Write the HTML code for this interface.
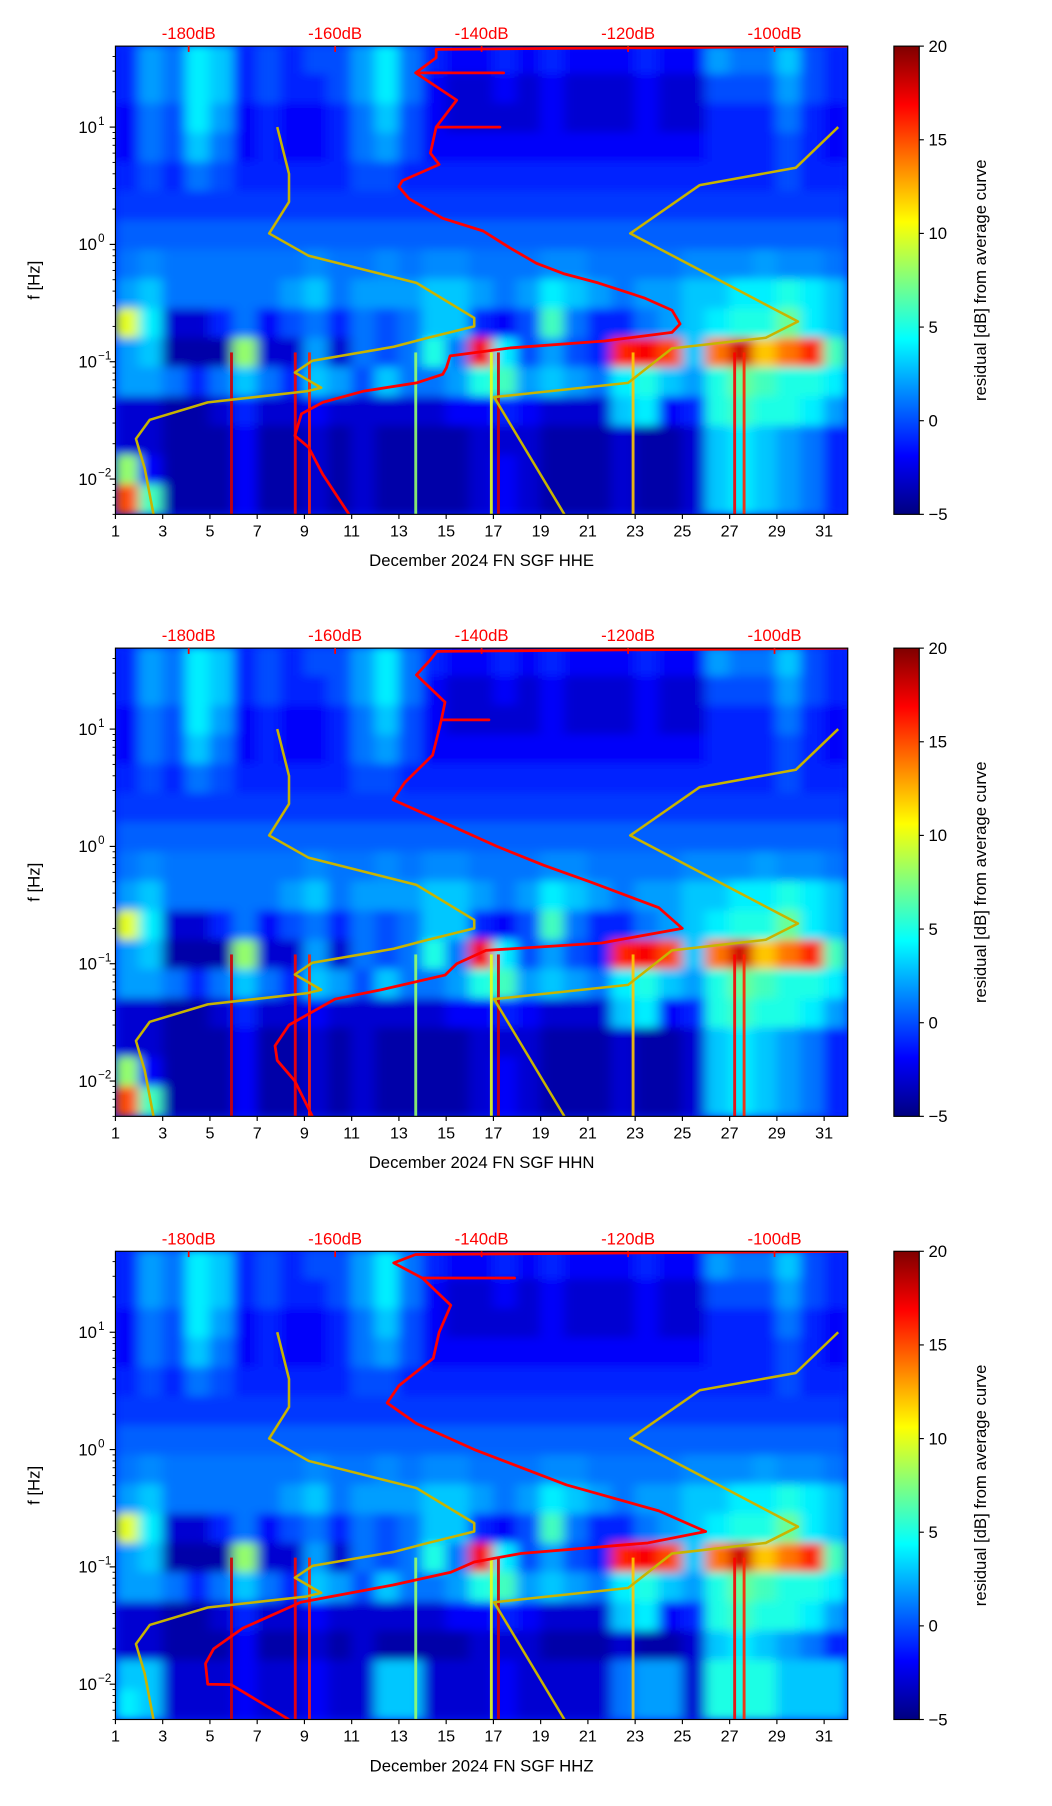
<!DOCTYPE html>
<html><head><meta charset="utf-8"><style>
html,body{margin:0;padding:0;background:#fff;}
svg{display:block;font-family:"Liberation Sans","DejaVu Sans",sans-serif;}
</style></head><body>
<svg id="fig" width="1052" height="1806" viewBox="0 0 912 1566" xmlns="http://www.w3.org/2000/svg">
<defs>
<filter id="blur" x="-5%" y="-5%" width="110%" height="110%"><feGaussianBlur stdDeviation="5 4"/></filter>
<linearGradient id="jet" x1="0" y1="1" x2="0" y2="0">
<stop offset="0" stop-color="#00007f"/><stop offset="0.125" stop-color="#0000ff"/><stop offset="0.375" stop-color="#00ffff"/><stop offset="0.625" stop-color="#ffff00"/><stop offset="0.875" stop-color="#ff0000"/><stop offset="1" stop-color="#7f0000"/>
</linearGradient>
</defs>
</svg>
<script>
// ---- data ----
const dayTicks=[1,3,5,7,9,11,13,15,17,19,21,23,25,27,29,31];
const dbTicks=[-180,-160,-140,-120,-100];
const cbTicks=[20,15,10,5,0,-5];
const yDecades=[1,0,-1,-2];
const channels=["HHE","HHN","HHZ"];
// residual grid: 16 bands (top 50Hz -> bottom 0.005Hz, 0.25 decade each) x 31 days
const residE=[
[-1,2,1,4,3,-1,0,-1,0,0,2,4,1,-1,-2,-2,-1,-2,-1,-2,-2,-2,-1,-2,-2,2,1,1,3,0,-1],
[-1,2,1,4,3,-1,0,-1,-1,0,2,4,1,-2,-3,-3,-2,-3,-2,-3,-3,-3,-2,-3,-3,0,0,0,2,0,-1],
[-2,1,0,4,2,-2,-1,-2,-2,-1,1,3,0,-2,-3,-3,-3,-3,-2,-3,-3,-3,-2,-3,-3,-1,-1,-1,1,-1,-2],
[-2,1,0,3,1,-2,-1,-2,-2,-1,1,2,0,-2,-2,-2,-2,-2,-2,-2,-2,-2,-2,-2,-2,-1,-1,-1,0,-1,-2],
[-1,0,-1,1,0,-1,-1,-1,-1,-1,0,0,-1,-1,-1,-1,-1,-1,-1,-1,-1,-1,-1,-1,-1,-1,-1,-1,0,-1,-1],
[-0.5,-0.5,-0.5,-0.5,-0.5,-0.5,-0.5,-0.5,-0.5,-0.5,-0.5,-0.5,-0.5,-0.5,-0.5,-0.5,-0.5,-0.5,-0.5,-0.5,-0.5,-0.5,-0.5,-0.5,-0.5,-0.5,-0.5,-0.5,-0.5,-0.5,-0.5],
[0.5,0.5,0.5,0.5,0.5,0.5,0.5,0.5,0.5,0.5,0.5,0.5,0.5,0.5,0.5,0.5,0.5,0.5,0.5,0.5,0.5,0.5,0.5,0.5,0.5,0.5,0.5,0.5,0.5,0.5,0.5],
[1,1.5,1,1,1,1,1,1,1.5,1,1,1.5,1,1.5,1.5,1,1,1,1.5,1.5,1,1,1,1,1.5,1.5,1.5,2,1.5,1.5,1],
[2,3,1,1,1,1,1,2,3,1,2,2,2,3,3,2,1,2,4,3,2,1,2,2,3,3,4,4,5,4,3],
[10,4,-3,-3,-1,1,-2,0,1,-1,1,0,1,3,3,-1,-2,0,6,1,-1,-1,1,2,3,4,5,5,7,4,3],
[2,3,-4,-4,-4,8,-3,-3,2,-3,1,0,1,5,1,17,4,0,2,0,-1,16,17,15,3,14,18,12,14,16,6],
[2,2,1,-1,1,3,1,-1,3,2,0,3,1,1,2,5,6,2,3,2,1,4,5,3,2,5,7,6,5,5,4],
[-3,-3,-4,-4,-3,-1,-3,-3,-2,-3,-3,-3,-3,-3,-2,-2,-1,-2,-3,-3,-3,3,4,-2,-1,5,6,5,5,4,2],
[-3,-3,-4,-4,-4,-2,-4,-4,-3,-4,-3,-4,-4,-4,-4,-3,-3,-3,-4,-4,-4,-3,-4,-4,-3,3,4,3,2,1,-1],
[8,-2,-4,-4,-4,-2,-4,-4,-3,-4,-3,-4,-4,-4,-4,-3,-2,-3,-4,-4,-4,-3,-4,-4,-3,3,4,3,2,1,-1],
[15,6,-4,-4,-4,-2,-4,-4,-3,-4,-3,-4,-4,-4,-4,-3,-2,-3,-4,-4,-4,-3,-4,-4,-3,3,4,3,2,1,-1]];
const residN=residE;
const residZ=residE.slice(0,14).concat([
[3,3,-3,-3,-3,-2,-3,-3,-2,-3,-3,3,3,-3,-3,-3,-2,-3,-3,-3,-3,1,2,2,-3,5,5,5,3,3,3],
[4,3,-3,-3,-3,-2,-3,-3,-2,-3,-3,3,3,-3,-3,-3,-2,-3,-3,-3,-3,1,2,2,-3,5,5,5,3,3,3]]);
// vertical streaks in low frequency region (day, residual)
const streakDays=[5.9,8.6,9.2,13.7,16.9,17.2,22.9,27.2,27.6];
const streakVals=[18,17,16,8,10,18,12,17,16];
// red average PSD curve: frequency [Hz] and level [dB]
const redFreqE=[49,46,39,29,29,29,17,10,10,10,6,4.8,3.5,3.1,2.45,1.67,1.3,0.93,0.69,0.56,0.47,0.35,0.275,0.21,0.178,0.15,0.131,0.112,0.089,0.078,0.066,0.056,0.045,0.036,0.0234,0.0186,0.011,0.005];
const redDbE=[-89.7,-146.2,-146.2,-149,-137,-149,-143.4,-146.2,-137.5,-146.2,-147,-145.8,-150.8,-151.3,-149.9,-145.3,-139.8,-136.1,-132.5,-128.7,-124.1,-117.8,-114,-112.9,-114,-123.2,-136.1,-144.3,-144.8,-145.3,-148.9,-156.2,-161.7,-164.6,-165.5,-163.6,-161.7,-158.1];
const redFreqN=[49,46,39,29,17,12,12,12,10,6,3.5,2.5,1.67,1,0.69,0.5,0.3,0.2,0.15,0.13,0.1,0.08,0.06,0.05,0.03,0.02,0.015,0.01,0.005];
const redDbN=[-89.7,-146.1,-147,-148.9,-145,-145.5,-139,-145.5,-145.8,-146.7,-150.5,-152.1,-145.8,-137.9,-131.5,-125.2,-115.8,-112.6,-123.6,-139.4,-143.4,-145,-153.7,-160,-166.3,-168.2,-167.9,-165.5,-163.1];
const redFreqZ=[49,46,39,29,29,29,17,10,6,3.5,2.5,1.67,1,0.5,0.3,0.2,0.16,0.13,0.11,0.09,0.07,0.05,0.03,0.02,0.015,0.01,0.0099,0.005];
const redDbZ=[-89.7,-149,-152,-148.1,-135.5,-148.1,-144.2,-145.8,-146.6,-151.3,-152.9,-148.9,-141,-128.4,-115.8,-109.4,-117.3,-134.7,-141,-144.2,-152.1,-164.7,-172.6,-176.6,-177.7,-177.4,-174.2,-166.3];
// yellow model curves (low / high noise models)
const lowFreq=[10,4,2.3,1.24,0.8,0.47,0.236,0.2,0.16,0.134,0.102,0.081,0.06,0.056,0.045,0.032,0.022,0.0123,0.005];
const lowDb=[-167.9,-166.3,-166.3,-169,-163.6,-148.9,-141,-141,-147.3,-152,-163.1,-165.5,-161.9,-163.9,-177.4,-185.3,-187.2,-186,-184.8];
const highFreq=[10,4.5,3.2,1.24,0.22,0.16,0.13,0.066,0.05,0.005];
const highDb=[-91.3,-97.1,-110.2,-119.7,-96.8,-101.2,-114,-120,-138.3,-128.7];

// ---- axes ----
const L=100,R=735,T=40,H=406,DMIN=1,DMAX=32,DBMIN=-190,DBMAX=-90,LFMAX=Math.log10(49),LFMIN=Math.log10(0.005);
const xDay=d=>L+(d-DMIN)/(DMAX-DMIN)*(R-L);
const xDb=v=>L+(v-DBMIN)/(DBMAX-DBMIN)*(R-L);
const yF=(f,off)=>off+T+(LFMAX-Math.log10(f))/(LFMAX-LFMIN)*H;
const yLog=(lf,off)=>off+T+(LFMAX-lf)/(LFMAX-LFMIN)*H;
function jet(v){let t=Math.max(0,Math.min(1,(v+5)/25));
 const c=(a)=>Math.max(0,Math.min(1,1.5-Math.abs(4*t-a)));
 return `rgb(${Math.round(255*c(3))},${Math.round(255*c(2))},${Math.round(255*c(1))})`;}
const NS="http://www.w3.org/2000/svg";
const svg=document.getElementById('fig');
function mk(tag,attrs,parent){const e=document.createElementNS(NS,tag);for(const k in attrs)e.setAttribute(k,attrs[k]);(parent||svg).appendChild(e);return e;}
const grids=[residE,residN,residZ];
const reds=[[redFreqE,redDbE],[redFreqN,redDbN],[redFreqZ,redDbZ]];
[0,522,1045].forEach((off,pi)=>{
 const g=mk('g',{});
 
 
 const clip=mk('clipPath',{id:'clip'+pi},g);
 mk('rect',{x:L,y:off+T,width:R-L,height:H},clip);
 const hm=mk('g',{'clip-path':'url(#clip'+pi+')'},g);
 
 
 mk('rect',{x:L,y:off+T,width:R-L,height:H,fill:jet(-1)},hm);
 const cells=mk('g',{filter:'url(#blur)'},hm);
 const grid=grids[pi];
 grid.forEach((row,ri)=>{
  const lfTop=1.7-0.25*ri, lfBot=lfTop-0.25;
  row.forEach((v,ci)=>{
   const x0=xDay(1+ci),x1=xDay(2+ci);
   const y0=yLog(lfTop,off),y1=yLog(lfBot,off);
   const r=mk('rect',{x:x0-0.5,y:y0-0.5,width:x1-x0+1,height:y1-y0+1,fill:jet(v)},cells);
   
   
  });
 });
 streakDays.forEach((d,i)=>{
  const s=mk('rect',{x:xDay(d)-1,y:yF(0.12,off),width:2.5,height:yF(0.005,off)-yF(0.12,off),fill:jet(streakVals[i]),opacity:0.9},hm);
  
  
 });
 const line=(fs,dbs,color,w,name)=>{const p=mk('polyline',{points:fs.map((f,i)=>xDb(dbs[i]).toFixed(1)+','+yF(f,off).toFixed(1)).join(' '),fill:'none',stroke:color,'stroke-width':w,'stroke-linejoin':'round'},hm);
  
  };
 line(lowFreq,lowDb,'#c8b400',2.2,'low-noise-model');
 line(highFreq,highDb,'#c8b400',2.2,'high-noise-model');
 line(reds[pi][0],reds[pi][1],'#ff0000',2.4,'average-psd-curve');
 mk('rect',{x:L,y:off+T,width:R-L,height:H,fill:'none',stroke:'#000','stroke-width':1},g);
 dayTicks.forEach(d=>{const x=xDay(d);mk('line',{x1:x,y1:off+T+H,x2:x,y2:off+T+H+4,stroke:'#000'},g);
  const t=mk('text',{x:x,y:off+T+H+19,'text-anchor':'middle','font-size':14},g);t.textContent=d;
  });
 const xl=mk('text',{x:(L+R)/2,y:off+T+H+45,'text-anchor':'middle','font-size':14.5},g);
 xl.textContent='December 2024 FN SGF  '+channels[pi];
 
 dbTicks.forEach(v=>{const x=xDb(v);mk('line',{x1:x,y1:off+T,x2:x,y2:off+T+5,stroke:'#f00','stroke-width':1.5},g);
  const t=mk('text',{x:x,y:off+T-6,'text-anchor':'middle','font-size':14.5,fill:'#f00'},g);t.textContent=v+'dB';
  });
 yDecades.forEach(e=>{const y=yLog(e,off);mk('line',{x1:L-5,y1:y,x2:L,y2:y,stroke:'#000'},g);
  const t=mk('text',{x:L-16,y:y+5,'text-anchor':'end','font-size':14.5},g);t.textContent='10';
  
  const s=mk('text',{x:L-15,y:y-2,'text-anchor':'start','font-size':10},g);s.textContent=e===1?'1':e===0?'0':'\u2212'+(-e);
  for(let m=2;m<=9;m++){const lf=e+Math.log10(m);if(lf<=LFMAX){const ym=yLog(lf,off);mk('line',{x1:L-2.5,y1:ym,x2:L,y2:ym,stroke:'#000','stroke-width':0.8},g);}}
  if(e===-2){for(let m=5;m<=9;m++){const ym=yLog(-3+Math.log10(m),off);if(ym<=off+T+H)mk('line',{x1:L-2.5,y1:ym,x2:L,y2:ym,stroke:'#000','stroke-width':0.8},g);}}
 });
 const yl=mk('text',{x:34,y:off+T+H/2,'text-anchor':'middle','font-size':14.5,transform:`rotate(-90 34 ${off+T+H/2})`},g);
 yl.textContent='f [Hz]';
 const cb=mk('g',{},g);
 mk('rect',{x:775,y:off+T,width:22,height:H,fill:'url(#jet)',stroke:'#000','stroke-width':1},cb);
 cbTicks.forEach(v=>{const y=off+T+(20-v)/25*H;mk('line',{x1:797,y1:y,x2:801,y2:y,stroke:'#000'},cb);
  const t=mk('text',{x:805,y:y+5,'font-size':14.5},cb);t.textContent=v<0?'\u2212'+(-v):v;
  });
 const cl=mk('text',{x:855,y:off+T+H/2,'text-anchor':'middle','font-size':14.5,transform:`rotate(-90 855 ${off+T+H/2})`},cb);
 cl.textContent='residual [dB] from average curve';
});
</script>
</body></html>
